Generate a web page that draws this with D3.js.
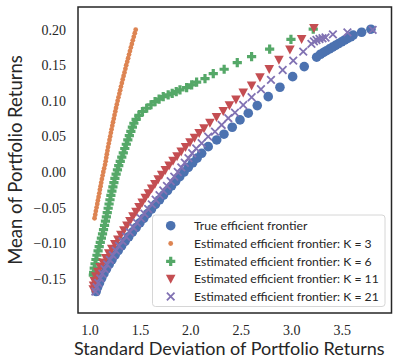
<!DOCTYPE html>
<html><head><meta charset="utf-8">
<script src="https://cdn.jsdelivr.net/npm/d3@7"></script>
<style>body{margin:0;background:#fff}</style>
</head><body><svg id="c" width="398" height="358"></svg>
<script>
// ---- data ----
const xTicks = [1.0, 1.5, 2.0, 2.5, 3.0, 3.5];
const yTicks = [-0.15, -0.10, -0.05, 0.00, 0.05, 0.10, 0.15, 0.20];
const seriesNames = ["True efficient frontier","Estimated efficient frontier: K = 3","Estimated efficient frontier: K = 6","Estimated efficient frontier: K = 11","Estimated efficient frontier: K = 21"];
const seriesColors = ["#4C72B0","#DD8452","#55A868","#C44E52","#8172B3"];
const seriesMarkers = ["circle","small","plus","tri","x"];

const trueMean = [-0.168,-0.162,-0.156,-0.1495,-0.143,-0.1365,-0.130,-0.1235,-0.117,-0.1105,-0.104,-0.0975,-0.091,-0.0845,-0.078,-0.0715,-0.065,-0.0585,-0.052,-0.0455,-0.039,-0.0325,-0.026,-0.0195,-0.013,-0.0065,0.0,0.0065,0.013,0.0195,0.0263,0.0356,0.045,0.0531,0.0629,0.0732,0.0826,0.0933,0.1059,0.1191,0.134,0.1481,0.1613,0.1655,0.168,0.1705,0.173,0.1755,0.178,0.1805,0.183,0.1855,0.1878,0.190,0.1925,0.1964,0.2007];
const trueSd = [1.066,1.080,1.099,1.120,1.143,1.168,1.195,1.223,1.253,1.285,1.318,1.353,1.389,1.426,1.463,1.500,1.538,1.576,1.615,1.654,1.694,1.734,1.774,1.814,1.854,1.895,1.937,1.980,2.023,2.067,2.112,2.177,2.261,2.333,2.415,2.492,2.574,2.663,2.772,2.888,3.014,3.129,3.252,3.29,3.32,3.35,3.38,3.41,3.44,3.47,3.50,3.53,3.56,3.59,3.614,3.698,3.790];

const k3Mean = [-0.065,-0.06,-0.055,-0.05,-0.045,-0.04,-0.035,-0.03,-0.025,-0.02,-0.015,-0.01,-0.005,0.0,0.005,0.01,0.015,0.02,0.025,0.03,0.035,0.04,0.045,0.05,0.055,0.06,0.065,0.07,0.075,0.08,0.085,0.09,0.095,0.1,0.105,0.11,0.115,0.12,0.125,0.13,0.135,0.14,0.145,0.15,0.155,0.16,0.165,0.17,0.175,0.18,0.185,0.19,0.195,0.2];
const k3Sd = [1.050,1.057,1.063,1.070,1.077,1.083,1.090,1.097,1.103,1.110,1.116,1.123,1.130,1.137,1.145,1.154,1.160,1.166,1.172,1.178,1.184,1.191,1.198,1.205,1.212,1.219,1.226,1.233,1.241,1.248,1.256,1.263,1.271,1.279,1.287,1.296,1.304,1.312,1.321,1.329,1.338,1.347,1.356,1.364,1.374,1.383,1.392,1.401,1.410,1.420,1.429,1.439,1.449,1.458];

const k6Mean = [-0.145,-0.141,-0.135,-0.129,-0.123,-0.117,-0.111,-0.105,-0.099,-0.093,-0.087,-0.081,-0.075,-0.069,-0.063,-0.057,-0.051,-0.045,-0.039,-0.033,-0.027,-0.021,-0.015,-0.009,-0.003,0.003,0.009,0.015,0.021,0.027,0.033,0.039,0.045,0.051,0.057,0.063,0.0685,0.074,0.0795,0.085,0.0896,0.0945,0.099,0.1025,0.1059,0.1085,0.1105,0.113,0.1153,0.1186,0.1224,0.1262,0.1312,0.1382,0.1444,0.1537,0.1621,0.1727,0.1863,0.2007];
const k6Sd = [1.038,1.041,1.047,1.055,1.064,1.074,1.085,1.096,1.107,1.118,1.129,1.139,1.149,1.158,1.167,1.176,1.185,1.194,1.203,1.212,1.222,1.232,1.242,1.252,1.264,1.277,1.290,1.305,1.320,1.335,1.350,1.365,1.380,1.395,1.410,1.425,1.440,1.462,1.490,1.525,1.567,1.610,1.650,1.690,1.731,1.780,1.820,1.860,1.897,1.963,2.013,2.062,2.145,2.227,2.335,2.465,2.607,2.786,2.997,3.218];

const k11Mean = [-0.165,-0.16,-0.1535,-0.147,-0.1405,-0.134,-0.1275,-0.121,-0.1145,-0.108,-0.1015,-0.095,-0.0885,-0.082,-0.0755,-0.069,-0.0625,-0.056,-0.0495,-0.043,-0.0365,-0.030,-0.0235,-0.017,-0.0105,-0.004,0.0025,0.009,0.0155,0.022,0.0285,0.035,0.0415,0.048,0.0545,0.0612,0.0689,0.0770,0.0854,0.0935,0.1017,0.1115,0.1214,0.1329,0.1444,0.1575,0.172,0.1866,0.2021];
const k11Sd = [1.037,1.040,1.048,1.062,1.082,1.106,1.133,1.162,1.191,1.221,1.251,1.281,1.311,1.341,1.371,1.401,1.431,1.461,1.491,1.522,1.553,1.584,1.616,1.648,1.681,1.716,1.752,1.789,1.828,1.868,1.909,1.952,1.996,2.041,2.087,2.135,2.194,2.259,2.326,2.387,2.452,2.524,2.607,2.690,2.782,2.878,2.987,3.103,3.225];

const k21Mean = [-0.168,-0.162,-0.156,-0.1495,-0.143,-0.1365,-0.130,-0.1235,-0.117,-0.1105,-0.104,-0.0975,-0.091,-0.0845,-0.078,-0.0715,-0.065,-0.0585,-0.052,-0.0455,-0.039,-0.0325,-0.026,-0.0195,-0.013,-0.0065,0.0,0.0065,0.013,0.0195,0.0263,0.033,0.0404,0.0497,0.0567,0.0661,0.0756,0.0834,0.0942,0.1051,0.1163,0.1294,0.1434,0.1565,0.1692,0.180,0.1835,0.1855,0.187,0.188,0.189,0.1934,0.1962,0.1997];
const k21Sd = [1.058,1.070,1.087,1.106,1.127,1.150,1.175,1.202,1.231,1.262,1.294,1.328,1.363,1.399,1.435,1.471,1.508,1.544,1.581,1.618,1.656,1.694,1.731,1.768,1.805,1.840,1.875,1.910,1.945,1.981,2.018,2.058,2.112,2.177,2.244,2.310,2.376,2.442,2.524,2.607,2.700,2.799,2.915,3.020,3.119,3.20,3.225,3.25,3.28,3.31,3.34,3.413,3.557,3.807];

const seriesMeans = [trueMean, k3Mean, k6Mean, k11Mean, k21Mean];
const seriesSds = [trueSd, k3Sd, k6Sd, k11Sd, k21Sd];

// ---- layout ----
const svg = d3.select("#c");
const P = {l:78, r:391.5, t:7, b:313};
const x = d3.scaleLinear().domain([0.886, 3.994]).range([P.l, P.r]);
const y = d3.scaleLinear().domain([-0.1982, 0.2319]).range([P.b, P.t]);
const ink = "#262626";

svg.append("rect").attr("width",398).attr("height",358).attr("fill","#fff");

function drawMarker(g, type, color){
  if(type==="circle") g.append("circle").attr("r",4.8).attr("fill",color);
  else if(type==="small") g.append("circle").attr("r",2.4).attr("fill",color);
  else if(type==="plus") g.append("path").attr("d","M-1.6,-4.6H1.6V-1.6H4.6V1.6H1.6V4.6H-1.6V1.6H-4.6V-1.6H-1.6Z").attr("fill",color);
  else if(type==="tri") g.append("path").attr("d","M-4.8,-4.2L4.8,-4.2L0,4.8Z").attr("fill",color);
  else if(type==="x") g.append("path").attr("d","M-3.8,-3.8L3.8,3.8M-3.8,3.8L3.8,-3.8").attr("stroke",color).attr("stroke-width",1.8).attr("fill","none");
}

seriesNames.forEach((name,i)=>{
  const pts = seriesMeans[i].map((m,j)=>({m, s:seriesSds[i][j]}));
  const g = svg.append("g");
  pts.forEach(p=>{
    const mg = g.append("g").attr("transform",`translate(${x(p.s)},${y(p.m)})`);
    drawMarker(mg, seriesMarkers[i], seriesColors[i]);
  });
});

// axes
const xAxis = svg.append("g").attr("transform",`translate(0,${P.b})`)
  .call(d3.axisBottom(x).tickValues(xTicks).tickSize(0).tickPadding(12).tickFormat(d3.format(".1f")));
const yAxis = svg.append("g").attr("transform",`translate(${P.l},0)`)
  .call(d3.axisLeft(y).tickValues(yTicks).tickSize(0).tickPadding(12).tickFormat(d3.format(".2f")));
[xAxis,yAxis].forEach(a=>{
  a.select(".domain").remove();
  a.attr("font-family",null).attr("font-size",null);
  a.selectAll("text").style("font-family","'Liberation Serif', 'DejaVu Serif', serif").style("font-size","14px").attr("fill",ink);
});

// frame
svg.append("rect").attr("x",P.l).attr("y",P.t).attr("width",P.r-P.l).attr("height",P.b-P.t)
  .attr("fill","none").attr("stroke",ink).attr("stroke-width",1.5);

// axis labels
function fitText(t, target){
  const w = t.node().getComputedTextLength();
  const fs = parseFloat(t.attr("font-size"));
  t.attr("font-size", fs*target/w);
}
const xl = svg.append("text").attr("x",74).attr("y",355).attr("font-family","Lato, sans-serif")
  .attr("font-size",18).attr("fill",ink).text("Standard Deviation of Portfolio Returns");
fitText(xl, 311);
const yl = svg.append("text").attr("transform","translate(22,160) rotate(-90)").attr("text-anchor","middle")
  .attr("font-family","Lato, sans-serif").attr("font-size",18).attr("fill",ink).text("Mean of Portfolio Returns");
fitText(yl, 210);

// legend
const lg = svg.append("g");
lg.append("rect").attr("x",152.5).attr("y",215).attr("width",232.5).attr("height",91.5).attr("rx",3)
  .attr("fill","#fff").attr("fill-opacity",0.8).attr("stroke","#cccccc").attr("stroke-width",0.8);
const rowY = [225.7, 243.5, 261.3, 279, 296.5];
let texts = [];
seriesNames.forEach((name,i)=>{
  const mg = lg.append("g").attr("transform",`translate(170.7,${rowY[i]})`);
  drawMarker(mg, seriesMarkers[i], seriesColors[i]);
  texts.push(lg.append("text").attr("x",194).attr("y",rowY[i]).attr("dy","0.35em")
    .attr("font-family","Lato, sans-serif").attr("font-size",12).attr("fill",ink).text(name));
});
const wmax = texts[4].node().getComputedTextLength();
const lfs = 12*185/wmax;
texts.forEach(t=>t.attr("font-size",lfs));
</script></body></html>
